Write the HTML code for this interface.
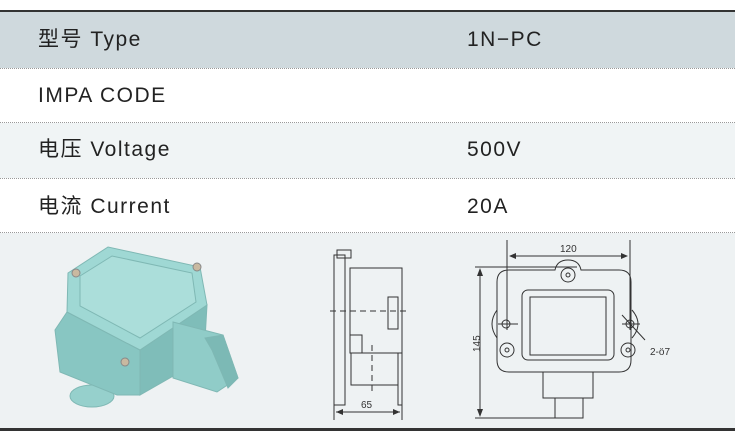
<!DOCTYPE html>
<html><head><meta charset="utf-8"><style>
body{margin:0;width:735px;height:433px;background:#fff;position:relative;overflow:hidden;font-family:"Liberation Sans","Noto Sans CJK SC",sans-serif;}
.r{position:absolute;left:0;width:735px;}
.t{position:absolute;font-size:21px;color:#222;line-height:22px;letter-spacing:1.5px;}
.d{position:absolute;left:0;width:735px;border-top:1px dotted #999;height:0;}
</style></head><body>
<div class="r" style="top:10px;height:2px;background:#333"></div>
<div class="r" style="top:12px;height:56px;background:#cfd9dd"></div>
<div class="r" style="top:123px;height:55px;background:#f0f4f5"></div>
<div class="r" style="top:233px;height:195px;background:#eef2f3"></div>
<div class="r" style="top:428px;height:3px;background:#333"></div>
<div class="d" style="top:68px"></div><div class="d" style="top:122px"></div><div class="d" style="top:178px"></div><div class="d" style="top:232px"></div>
<div class="t" style="left:38px;top:29px">型号 Type</div><div class="t" style="left:467px;top:29px">1N−PC</div>
<div class="t" style="left:38px;top:85px">IMPA CODE</div>
<div class="t" style="left:38px;top:139px">电压 Voltage</div><div class="t" style="left:467px;top:139px">500V</div>
<div class="t" style="left:38px;top:196px">电流 Current</div><div class="t" style="left:467px;top:196px">20A</div>
<svg width="735" height="433" style="position:absolute;left:0;top:0" font-family="Liberation Sans,sans-serif">
<g stroke="#7fb8b4" stroke-width="1">
<ellipse cx="92" cy="396" rx="22" ry="11" fill="#96d0cc"/>
<polygon points="67,312 140,350 140,395 117,395 60,372 55,330" fill="#88c6c2"/>
<polygon points="140,350 207,305 205,340 175,375 140,395" fill="#7fbdb9"/>
<polygon points="68,273 108,247 200,267 207,305 140,350 67,312" fill="#9fd8d4"/>
<polygon points="80,276 112,256 192,273 196,302 140,338 80,306" fill="#abdeda"/>
<polygon points="173,322 223,335 238,378 217,392 173,378" fill="#90ccc8"/>
<polygon points="205,338 223,335 238,378 228,388 212,350" fill="#7cb9b5"/>
</g>
<g fill="#c9b9a0" stroke="#888"><circle cx="76" cy="273" r="4"/><circle cx="197" cy="267" r="4"/><circle cx="125" cy="362" r="4"/></g>
<g fill="none" stroke="#333" stroke-width="1">
<rect x="334" y="255" width="11" height="150"/><rect x="350" y="268" width="52" height="85"/>
<rect x="351" y="353" width="47" height="32"/><rect x="398" y="353" width="4" height="52"/>
<rect x="337" y="250" width="14" height="8"/><path d="M388,297 h10 v32 h-10 z"/><rect x="350" y="335" width="12" height="18"/>
<path d="M330,311 h78" stroke-dasharray="6,4"/><path d="M372,345 v50" stroke-dasharray="6,4"/>
<path d="M334,405 v15 M402,405 v15 M336,412 h64"/>
<path d="M497,282 q0,-12 12,-12 h46 q2,-10 13,-10 q11,0 13,10 h38 q12,0 12,12 v78 q0,12 -12,12 h-110 q-12,0 -12,-12 z"/>
<rect x="522" y="290" width="92" height="70" rx="6"/><rect x="530" y="297" width="76" height="58"/>
<circle cx="568" cy="275" r="7"/><circle cx="568" cy="275" r="2"/>
<circle cx="507" cy="350" r="7"/><circle cx="507" cy="350" r="2"/><circle cx="628" cy="350" r="7"/><circle cx="628" cy="350" r="2"/>
<path d="M497,310 q-10,14 0,28 M632,310 q12,14 0,28"/>
<circle cx="506" cy="324" r="4"/><circle cx="630" cy="324" r="4"/>
<path d="M498,324 h20 M622,324 h18 M622,315 L645,340"/>
<rect x="543" y="372" width="50" height="26"/><rect x="555" y="398" width="28" height="20"/>
<path d="M507,240 v90 M630,240 v90 M510,256 h117 M475,267 h102 M475,418 h108 M480,270 v145"/>
</g>
<g fill="#333"><polygon points="336,412 343,409 343,415"/><polygon points="400,412 393,409 393,415"/>
<polygon points="509,256 516,253 516,259"/><polygon points="628,256 621,253 621,259"/>
<polygon points="480,268 477,276 483,276"/><polygon points="480,417 477,409 483,409"/></g>
<g font-size="10" fill="#333"><text x="361" y="408">65</text><text x="560" y="252">120</text><text x="650" y="355">2-ö7</text>
<text transform="translate(480,352) rotate(-90)">145</text></g>
</svg>
</body></html>
